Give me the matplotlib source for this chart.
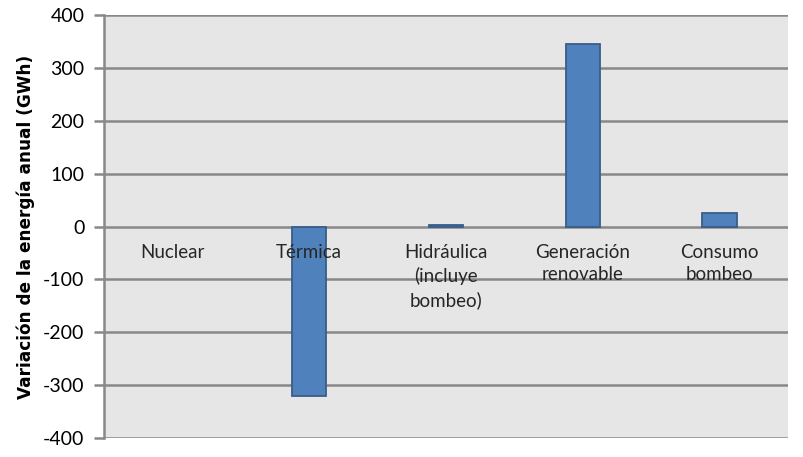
import matplotlib.pyplot as plt
import numpy as np

categorias = ["Nuclear", "Térmica", "Hidráulica\n(incluye\nbombeo)", "Generación\nrenovable", "Consumo\nbombeo"]
variacion = [0, -320, 3, 345, 25]
yticks = [-400, -300, -200, -100, 0, 100, 200, 300, 400]

plt.rcParams['font.family'] = ['Lato', 'DejaVu Sans']

fig = plt.figure(figsize=(8.04, 4.57), dpi=100)
ax = fig.add_axes([0.1294, 0.0416, 0.8506, 0.9254])
ax.set_facecolor("#E6E6E6")

x = np.arange(len(categorias))
# sin borde para barras de altura cero
bordes = ["none" if v == 0 else "#385D8A" for v in variacion]
ax.bar(x, variacion, width=0.25, color="#4F81BD", edgecolor=bordes, linewidth=1.3, zorder=3)

ax.set_ylim(-400, 400)
ax.set_xlim(-0.5, len(categorias) - 0.5)
ax.set_yticks(yticks)
ax.set_yticklabels([str(v) for v in yticks], fontsize=14, color="#000000")
ax.yaxis.grid(True, color="#888888", linewidth=1.8, zorder=1)
ax.tick_params(axis='y', length=7, width=1.8, color="#888888", pad=7)
ax.set_xticks([])
for s in ["top", "right", "bottom"]:
    ax.spines[s].set_visible(False)
ax.spines["left"].set_color("#888888")
ax.spines["left"].set_linewidth(1.8)

for i, c in enumerate(categorias):
    ax.annotate(c, (i, 0), xytext=(0, -12.5), textcoords="offset points",
                ha="center", va="top", fontsize=13.5, color="#262626",
                linespacing=1.4, zorder=4)

ax.set_ylabel("Variación de la energía anual (GWh)", fontsize=12.2, fontweight="bold",
              family=["DejaVu Sans"], labelpad=6)

fig.savefig("out.png", dpi=100)
